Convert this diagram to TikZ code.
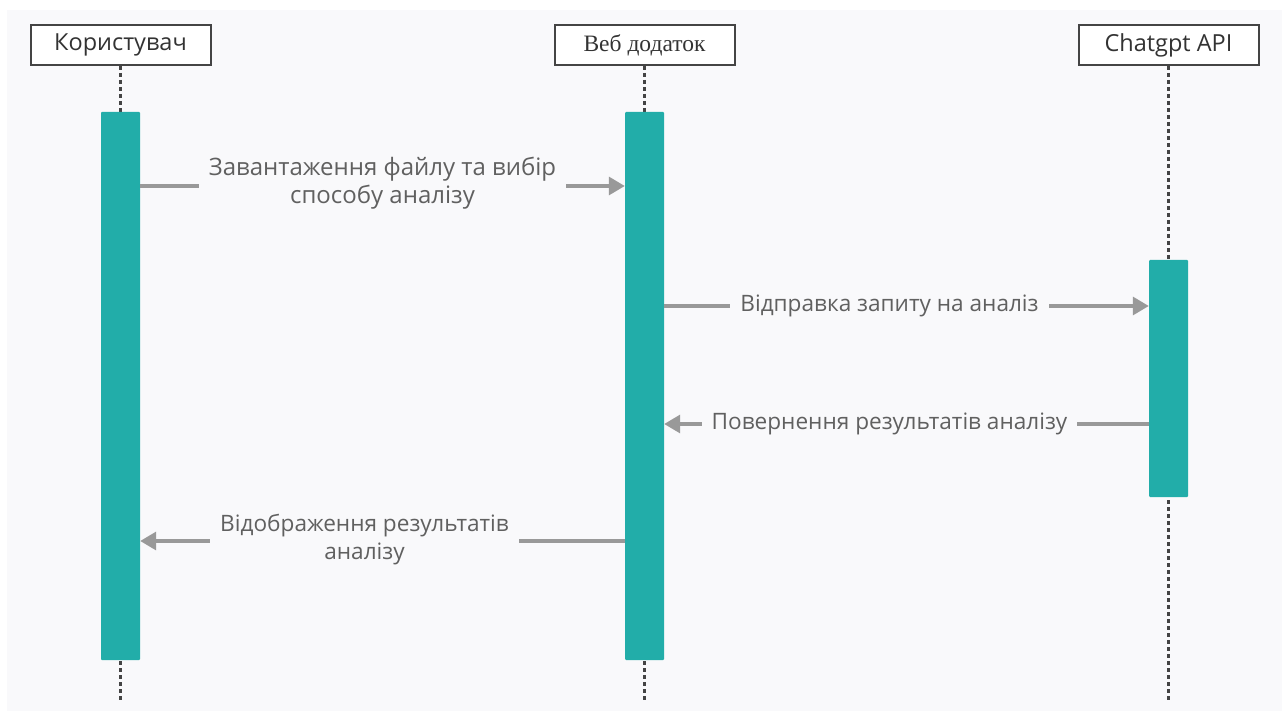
\documentclass[tikz,border=0pt]{standalone}
\usepackage{fontspec}
\setmainfont{Open Sans}
\newfontfamily\webfont{Liberation Serif}
\usetikzlibrary{arrows.meta}
\definecolor{bgcol}{HTML}{F9F9FB}
\definecolor{barcol}{HTML}{22ADA9}
\definecolor{msgcol}{HTML}{999999}
\definecolor{txtcol}{HTML}{606060}
\definecolor{boxcol}{HTML}{444444}
\tikzstyle{head} = [draw=boxcol,line width=2pt,fill=white,minimum width=180pt,minimum height=40pt,inner sep=0pt,font=\fontsize{23.5}{26}\selectfont,text=black!80]
\tikzstyle{bar} = [fill=barcol,minimum width=39pt,inner sep=0pt,rounded corners=1pt]
\tikzstyle{lifeline} = [draw=boxcol,line width=2.5pt,dash pattern=on 4pt off 3pt]
\tikzstyle{msg} = [draw=msgcol,line width=3.2pt,-{Triangle[length=16pt,width=18pt]}]
\tikzstyle{lbl} = [fill=bgcol,text=txtcol,font=\fontsize{22.6}{28}\selectfont,inner xsep=10pt,inner ysep=0pt,align=center]

\begin{document}
\begin{tikzpicture}[x=1pt,y=-1pt]
          \useasboundingbox (0,0) rectangle (1282,711);
          \fill[white] (0,0) rectangle (1282,711);
          \fill[bgcol] (7,10) rectangle (1282,711);

          \coordinate (userend) at (120.5,700);
          \coordinate (webend) at (644.5,700);
          \coordinate (apiend) at (1168.5,700);

          \node[head] at (120.5,45) (user) {Користувач};
          \node[head,font=\webfont\fontsize{23.5}{26}\selectfont] at (644.5,45) (web) {Веб додаток};
          \node[head] at (1168.5,45) (api) {Chatgpt API};

          \draw[lifeline] (user.south) -- (userend);
          \draw[lifeline] (web.south) -- (webend);
          \draw[lifeline] (api.south) -- (apiend);

          \node[bar,minimum height=548pt] at (120.5,386) (userbar) {};
          \node[bar,minimum height=548pt] at (644.5,386) (webbar) {};
          \node[bar,minimum height=237pt] at (1168.5,378.5) (apibar) {};

          \coordinate (m1) at (0,186);
          \coordinate (m2) at (0,306);
          \coordinate (m3) at (0,424);
          \coordinate (m4) at (0,541);

          \draw[msg] (userbar.east |- m1) -- (webbar.west |- m1) node[lbl,midway,yshift=3pt,font=\fontsize{24}{28}\selectfont] {Завантаження файлу та вибір\\способу аналізу};
          \draw[msg] (webbar.east |- m2) -- (apibar.west |- m2) node[lbl,midway,xshift=-17pt] {Відправка запиту на аналіз};
          \draw[msg] (apibar.west |- m3) -- (webbar.east |- m3) node[lbl,midway,xshift=-17pt] {Повернення результатів аналізу};
          \draw[msg] (webbar.west |- m4) -- (userbar.east |- m4) node[lbl,midway,xshift=-18pt,yshift=1pt] {Відображення результатів\\аналізу};
        \end{tikzpicture}
\end{document}
